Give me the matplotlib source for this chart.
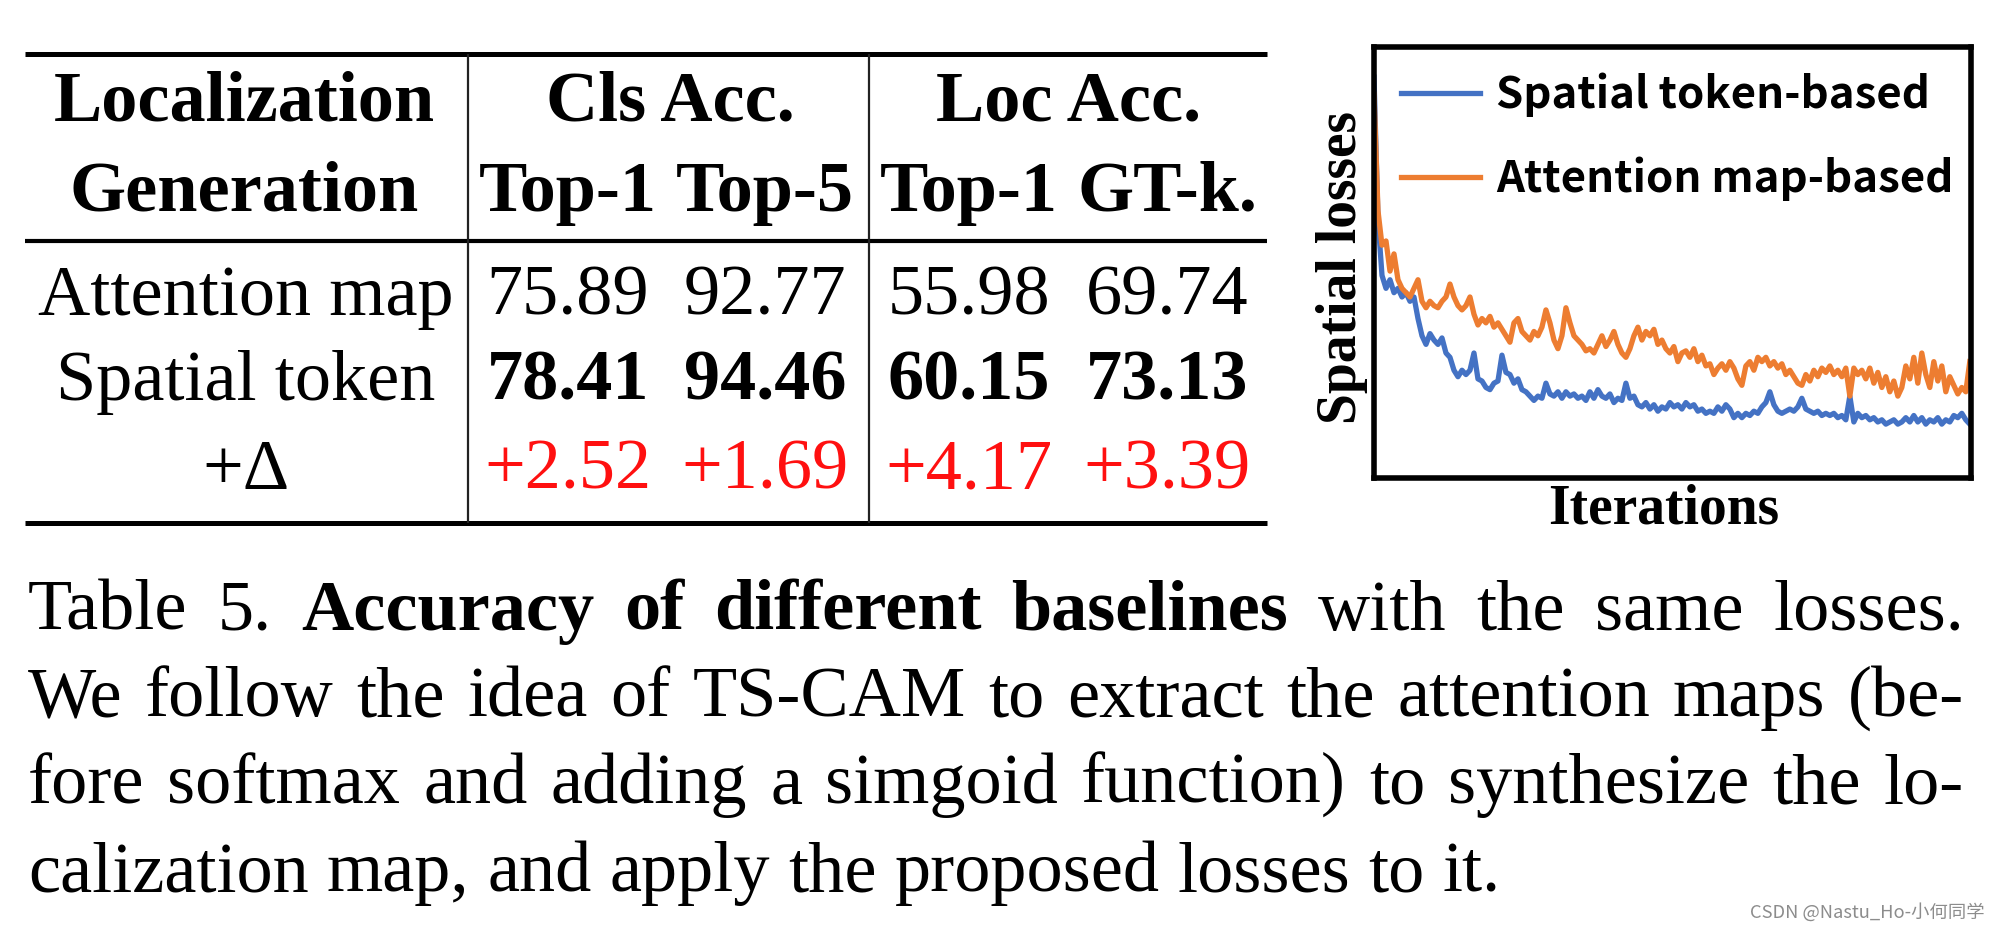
#!/usr/bin/env python3
# -*- coding: utf-8 -*-
"""
表格 + 损失曲线图 复现
"""

import matplotlib
matplotlib.use('Agg')
import matplotlib.pyplot as plt
import numpy as np
from matplotlib.lines import Line2D

W, H = 2000, 930
SERIF = 'Liberation Serif'

# 表格数据
col_groups = ['Cls Acc.', 'Loc Acc.']
col_names = ['Top-1', 'Top-5', 'Top-1', 'GT-k.']
row_names = ['Attention map', 'Spatial token', '+Δ']
attention_acc = [75.89, 92.77, 55.98, 69.74]
spatial_acc = [78.41, 94.46, 60.15, 73.13]
delta_acc = [2.52, 1.69, 4.17, 3.39]

# 损失曲线
spatial_loss = [
    0.93, 0.60, 0.47, 0.44, 0.46, 0.43, 0.44, 0.42, 0.43, 0.41,
    0.42, 0.37, 0.33, 0.31, 0.335, 0.32, 0.31, 0.325, 0.29, 0.28,
    0.25, 0.235, 0.25, 0.24, 0.25, 0.29, 0.23, 0.225, 0.21, 0.205,
    0.22, 0.225, 0.285, 0.245, 0.24, 0.22, 0.23, 0.205, 0.20, 0.19,
    0.18, 0.19, 0.185, 0.22, 0.195, 0.19, 0.20, 0.185, 0.20, 0.19,
    0.195, 0.185, 0.19, 0.18, 0.20, 0.185, 0.205, 0.19, 0.185, 0.195,
    0.175, 0.185, 0.18, 0.22, 0.185, 0.19, 0.17, 0.165, 0.175, 0.16,
    0.17, 0.155, 0.165, 0.16, 0.175, 0.165, 0.17, 0.16, 0.175, 0.165,
    0.17, 0.155, 0.16, 0.15, 0.155, 0.15, 0.165, 0.155, 0.17, 0.16,
    0.14, 0.15, 0.14, 0.15, 0.145, 0.155, 0.15, 0.165, 0.175, 0.20,
    0.17, 0.155, 0.15, 0.155, 0.16, 0.155, 0.165, 0.185, 0.16, 0.155,
    0.15, 0.155, 0.145, 0.15, 0.145, 0.15, 0.14, 0.145, 0.135, 0.19,
    0.13, 0.15, 0.14, 0.145, 0.135, 0.14, 0.13, 0.135, 0.125, 0.13,
    0.135, 0.125, 0.13, 0.14, 0.13, 0.145, 0.13, 0.14, 0.125, 0.135,
    0.13, 0.14, 0.125, 0.135, 0.13, 0.145, 0.14, 0.15, 0.135, 0.125,
]
attention_loss = [
    0.89, 0.62, 0.54, 0.55, 0.48, 0.52, 0.46, 0.44, 0.43, 0.42,
    0.44, 0.46, 0.41, 0.395, 0.41, 0.40, 0.395, 0.41, 0.42, 0.45,
    0.42, 0.40, 0.39, 0.40, 0.42, 0.38, 0.355, 0.37, 0.36, 0.375,
    0.35, 0.36, 0.345, 0.33, 0.315, 0.36, 0.37, 0.34, 0.33, 0.32,
    0.34, 0.33, 0.35, 0.39, 0.36, 0.32, 0.30, 0.33, 0.395, 0.36,
    0.33, 0.32, 0.31, 0.295, 0.30, 0.29, 0.31, 0.33, 0.305, 0.32,
    0.34, 0.31, 0.29, 0.28, 0.30, 0.33, 0.35, 0.32, 0.34, 0.33,
    0.345, 0.31, 0.32, 0.30, 0.29, 0.305, 0.27, 0.29, 0.295, 0.28,
    0.30, 0.27, 0.285, 0.26, 0.265, 0.24, 0.255, 0.265, 0.25, 0.27,
    0.255, 0.23, 0.215, 0.26, 0.27, 0.25, 0.28, 0.27, 0.28, 0.26,
    0.27, 0.255, 0.265, 0.24, 0.25, 0.235, 0.22, 0.215, 0.24, 0.225,
    0.25, 0.235, 0.255, 0.245, 0.26, 0.24, 0.25, 0.235, 0.255, 0.19,
    0.255, 0.24, 0.25, 0.23, 0.255, 0.22, 0.245, 0.21, 0.235, 0.20,
    0.225, 0.19, 0.21, 0.26, 0.23, 0.28, 0.22, 0.29, 0.24, 0.21,
    0.27, 0.225, 0.26, 0.20, 0.235, 0.215, 0.195, 0.21, 0.20, 0.27,
]

# 图注（True = 粗体）
caption_line1 = [('Table', False), ('5.', False), ('Accuracy', True), ('of', True),
                 ('different', True), ('baselines', True), ('with', False),
                 ('the', False), ('same', False), ('losses.', False)]
caption_line2 = 'We follow the idea of TS-CAM to extract the attention maps (be-'
caption_line3 = 'fore softmax and adding a simgoid function) to synthesize the lo-'
caption_line4 = 'calization map, and apply the proposed losses to it.'


def fx(x):
    return x / W


def fy(y):
    return 1 - y / H


def hline(fig, x0, x1, y, lw):
    fig.add_artist(Line2D([fx(x0), fx(x1)], [fy(y), fy(y)], lw=lw, color='black',
                          solid_capstyle='butt'))


def vline(fig, x, y0, y1, lw):
    fig.add_artist(Line2D([fx(x), fx(x)], [fy(y0), fy(y1)], lw=lw, color='#222222',
                          solid_capstyle='butt'))


def put_words(fig, words, y, x0, x1, size, justify=True):
    """逐词放置，两端对齐"""
    renderer = fig.canvas.get_renderer()
    texts = []
    for w, bold in words:
        t = fig.text(0, fy(y), w, fontsize=size, family=SERIF,
                     fontweight='bold' if bold else 'normal', va='baseline', ha='left')
        texts.append(t)
    widths = [t.get_window_extent(renderer).width for t in texts]
    if justify:
        gap = (x1 - x0 - sum(widths)) / (len(texts) - 1)
    else:
        gap = 0.25 * size * 100 / 72
    x = x0
    for t, w in zip(texts, widths):
        t.set_x(fx(x))
        x += w + gap


fig = plt.figure(figsize=(20, 9.3), dpi=100)
fig.patch.set_facecolor('white')

# ---- 表格 ----
TS = 52
tx0, tx1 = 25, 1267
hline(fig, tx0, tx1, 54, 3.6)
hline(fig, tx0, tx1, 241, 3.0)
hline(fig, tx0, tx1, 523, 3.6)
for vx in [468, 869]:
    vline(fig, vx, 54, 523, 1.6)

col_x = [568, 765, 969, 1167]
group_x = [670, 1069]
fig.text(fx(244), fy(103), 'Localization', fontsize=TS, family=SERIF, fontweight='bold',
         ha='center', va='center')
fig.text(fx(244), fy(193), 'Generation', fontsize=TS, family=SERIF, fontweight='bold',
         ha='center', va='center')
for gx, g in zip(group_x, col_groups):
    fig.text(fx(gx), fy(103), g, fontsize=TS, family=SERIF, fontweight='bold',
             ha='center', va='center')
for cx, c in zip(col_x, col_names):
    fig.text(fx(cx), fy(193), c, fontsize=TS, family=SERIF, fontweight='bold',
             ha='center', va='center')

row_y = [297, 382, 471]
row_vals = [
    ([f'{v:.2f}' for v in attention_acc], 'normal', 'black'),
    ([f'{v:.2f}' for v in spatial_acc], 'bold', 'black'),
    ([f'+{v:.2f}' for v in delta_acc], 'normal', '#ff1010'),
]
for ry, name, (vals, weight, color) in zip(row_y, row_names, row_vals):
    fig.text(fx(246), fy(ry), name, fontsize=TS, family=SERIF, ha='center', va='center')
    for cx, v in zip(col_x, vals):
        fig.text(fx(cx), fy(ry), v, fontsize=TS, family=SERIF, fontweight=weight,
                 color=color, ha='center', va='center')

# ---- 损失曲线 ----
ax = fig.add_axes([fx(1374), fy(478), (1971 - 1374) / W, (478 - 47) / H])
iters = np.arange(len(spatial_loss))
ax.plot(iters, spatial_loss, color='#4472C4', lw=3.8, label='Spatial token-based')
ax.plot(iters, attention_loss, color='#ED7D31', lw=3.8, label='Attention map-based')
ax.set_xlim(0, len(spatial_loss) - 0.7)
ax.set_ylim(0, 1.0)
ax.set_xticks([])
ax.set_yticks([])
for sp in ax.spines.values():
    sp.set_linewidth(4)
    sp.set_color('black')

ax.legend(loc='upper left', bbox_to_anchor=(0.045, 0.94), frameon=False,
          borderaxespad=0, borderpad=0, handlelength=1.8, handletextpad=0.38,
          labelspacing=0.9,
          prop={'family': ['Noto Sans CJK SC', 'DejaVu Sans'], 'weight': 'bold', 'size': 31.5})

fig.text(fx(1342), fy(268), 'Spatial losses', rotation=90, fontsize=40, family=SERIF,
         fontweight='bold', ha='center', va='center')
fig.text(fx(1664), fy(510), 'Iterations', fontsize=40, family=SERIF, fontweight='bold',
         ha='center', va='center')

# ---- 图注 ----
CS = 52
cx0, cx1 = 28, 1964
put_words(fig, caption_line1, 630, cx0, cx1, CS)
put_words(fig, [(w, False) for w in caption_line2.split()], 716, cx0, cx1, CS)
put_words(fig, [(w, False) for w in caption_line3.split()], 803, cx0, cx1, CS)
put_words(fig, [(w, False) for w in caption_line4.split()], 891, cx0, cx1, CS, justify=False)

# 水印
fig.text(fx(1985), fy(912), 'CSDN @Nastu_Ho-小何同学', fontsize=13.2, color='#8c8c8c',
         family=['Noto Sans CJK SC', 'DejaVu Sans'], ha='right', va='center')

plt.savefig('out.png', dpi=100)
plt.close()
